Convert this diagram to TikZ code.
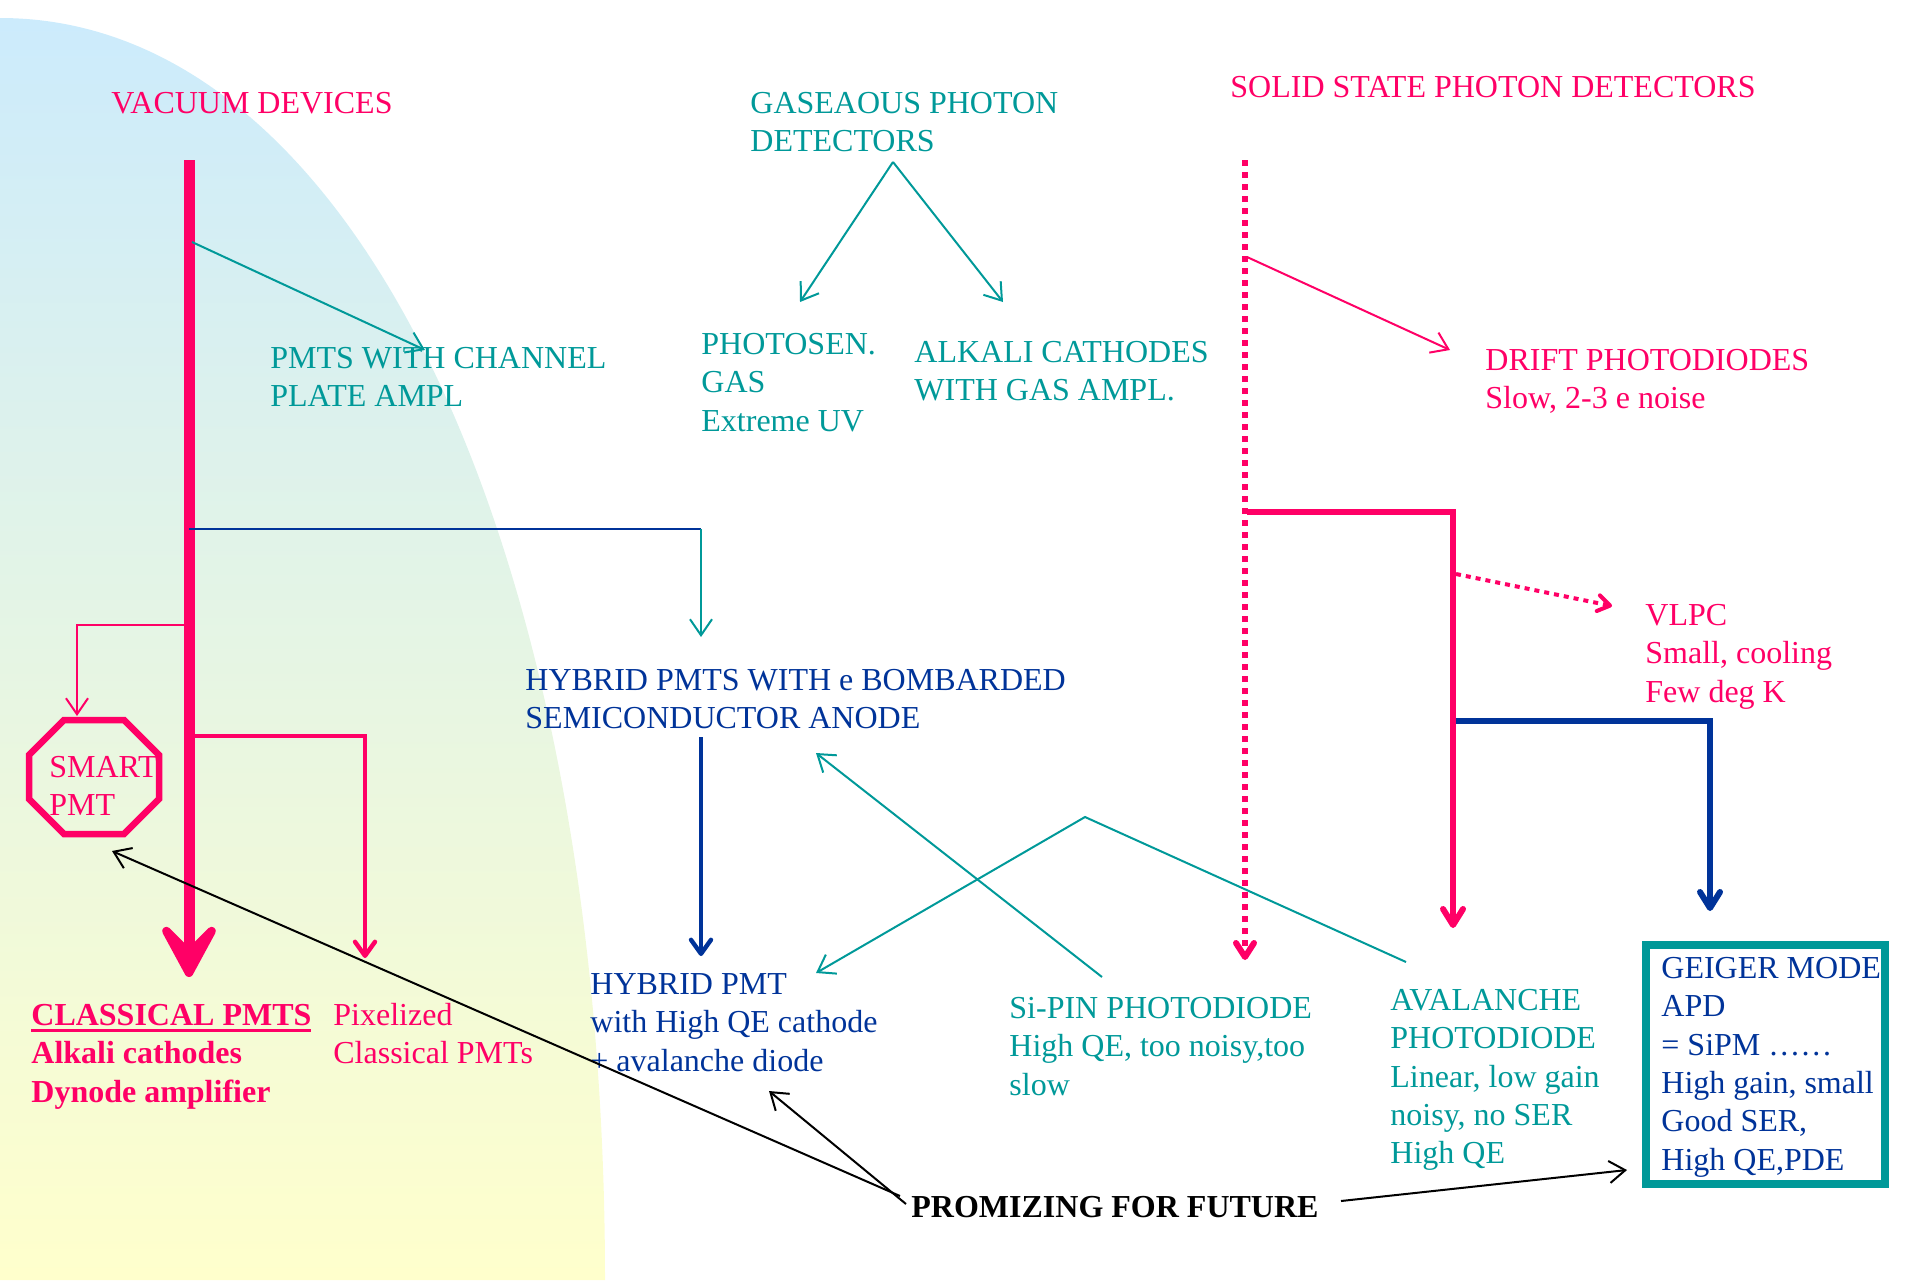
\documentclass[tikz,border=0pt]{standalone}
\usepackage{fontspec}
\setmainfont{Liberation Serif}
\usetikzlibrary{arrows.meta,calc}
\definecolor{cpink}{RGB}{255,0,102}
\definecolor{cteal}{RGB}{0,153,153}
\definecolor{cblue}{RGB}{0,51,153}
\definecolor{bgtop}{RGB}{204,235,252}
\definecolor{bgbot}{RGB}{255,255,204}
\newcommand\fsz{\fontsize{16pt}{19.2pt}\selectfont}
\newcommand\thickul[1]{\setbox0\hbox{#1}\rlap{\rule[-3.5pt]{\wd0}{1.5pt}}\box0}
\begin{document}
\begin{tikzpicture}[x=0.5pt,y=-0.5pt,
  lbl/.style={inner sep=0pt,anchor=north west,align=left,font=\fsz},
  thinarr/.style={line width=1pt,-{Straight Barb[length=8pt,width=11pt]}},
  medarr/.style={line width=2.2pt,-{Straight Barb[length=7pt,width=10pt,round]}},
  thickarr/.style={line width=3pt,-{Straight Barb[length=8pt,width=10pt,round]}},
  bigarr/.style={line width=5.5pt,-{Stealth[length=37pt,width=40pt,inset=20pt,round]}},
  dotarr/.style={line width=3pt,dash pattern=on 3pt off 3pt,-{Straight Barb[length=7pt,width=9pt,round]}},
  smalldot/.style={line width=2pt,dash pattern=on 2.5pt off 2.5pt,-{Straight Barb[length=6pt,width=8pt,round]}},
  octo/.style={draw=cpink,line width=3.25pt,line join=miter},
  gbox/.style={draw=cteal,line width=4pt,inner sep=0pt,outer sep=0pt,anchor=north west,minimum width=119.5pt,minimum height=119.5pt}
]
\useasboundingbox (0,0) rectangle (1915,1280);
\shade[top color=bgtop,bottom color=bgbot] (0,18) .. controls (360,18) and (605,560) .. (605,1280) -- (0,1280) -- cycle;

% ---------- texts ----------
\node[lbl,text=cpink] (vac) at (111,86) {\strut VACUUM DEVICES};
\node[lbl,text=cteal] (gas) at (750,86) {\strut GASEAOUS PHOTON\\DETECTORS};
\node[lbl,text=cpink] (solid) at (1230,70) {\strut SOLID STATE PHOTON DETECTORS};
\node[lbl,text=cteal] (mcp) at (270,341) {\strut PMTS WITH CHANNEL\\PLATE AMPL};
\node[lbl,text=cteal] (photosen) at (701,327) {\strut PHOTOSEN.\\GAS\\Extreme UV};
\node[lbl,text=cteal] (alkgas) at (914,335) {\strut ALKALI CATHODES\\WITH GAS AMPL.};
\node[lbl,text=cpink] (drift) at (1485,343) {\strut DRIFT PHOTODIODES\\Slow, 2-3 e noise};
\node[lbl,text=cblue] (hybrid) at (525,663) {\strut HYBRID PMTS WITH e BOMBARDED\\SEMICONDUCTOR ANODE};
\node[lbl,text=cpink] (vlpc) at (1645,598) {\strut VLPC\\Small, cooling\\Few deg K};
\node[lbl,text=cpink] (smart) at (49,750) {\strut SMART\\PMT};
\node[lbl,text=cpink,font=\fsz\bfseries] (classical) at (31,998) {\strut\thickul{CLASSICAL PMTS}\\Alkali cathodes\\Dynode amplifier};
\node[lbl,text=cpink] (pixel) at (333,998) {\strut Pixelized\\Classical PMTs};
\node[lbl,text=cblue] (hybpmt) at (590,967) {\strut HYBRID PMT\\with High QE cathode\\+ avalanche diode};
\node[lbl,text=cteal] (sipin) at (1009,991) {\strut Si-PIN PHOTODIODE\\High QE, too noisy,too\\slow};
\node[lbl,text=cteal] (aval) at (1390,983) {\strut AVALANCHE\\PHOTODIODE\\Linear, low gain\\noisy, no SER\\High QE};
\node[gbox] (geiger) at (1646,945) {};
\node[lbl,text=cblue] (geigertxt) at (1661,951) {\strut GEIGER MODE\\APD\\= SiPM ……\\High gain, small\\Good SER,\\High QE,PDE};
\node[lbl,font=\fsz\bfseries] (prom) at (911,1190) {\strut PROMIZING FOR FUTURE};

% ---------- octagon (SMART PMT) ----------
\coordinate (oc) at (94,777);
\draw[octo] ($(oc)+(-30,-57)$) -- ++(60,0) -- ++(35,35) -- ++(0,44) -- ++(-35,35) -- ++(-60,0) -- ++(-35,-35) -- ++(0,-44) -- cycle;

% ---------- coordinates ----------
\coordinate (vtop) at (189,160);
\coordinate (vend) at (189,977);
\coordinate (vb1) at (192,242);   \coordinate (mcpin) at (425,350);
\coordinate (vb2) at (189,529);   \coordinate (hk) at (701,529);   \coordinate (hybin) at (701,637);
\coordinate (vb3) at (189,625);   \coordinate (sk) at (77,625);    \coordinate (smartin) at (77,716);
\coordinate (vb4) at (189,736);   \coordinate (pk) at (365,736);   \coordinate (pixin) at (365,958);
\coordinate (hybout) at (701,737); \coordinate (hpin) at (701,956);
\coordinate (gapex) at (893,162); \coordinate (psin) at (800,302); \coordinate (agin) at (1003,302);
\coordinate (stop) at (1245,160); \coordinate (send) at (1245,960);
\coordinate (sb1) at (1247,257);  \coordinate (driftin) at (1450,350);
\coordinate (sb2) at (1247,512);  \coordinate (ak) at (1453,512);  \coordinate (avin) at (1453,928);
\coordinate (ab1) at (1456,574);  \coordinate (vlpcin) at (1612,606);
\coordinate (ab2) at (1456,721);  \coordinate (gk) at (1710,721);  \coordinate (gin) at (1710,911);
\coordinate (sipout) at (1102,977); \coordinate (hybin2) at (816,753);
\coordinate (avout) at (1406,962); \coordinate (tapex) at (1085,817); \coordinate (hpin2) at (816,973);
\coordinate (pr1) at (900,1196);  \coordinate (smartin2) at (112,851);
\coordinate (pr2) at (906,1204);  \coordinate (hpin3) at (769,1091);
\coordinate (pr3) at (1341,1201); \coordinate (gin2) at (1627,1170);

% ---------- connectors ----------
\draw[cpink,bigarr] (vtop) -- (vend);
\draw[cteal,thinarr] (vb1) -- (mcpin);
\draw[cblue,line width=1pt] (vb2) -- (hk);
\draw[cteal,thinarr] (hk) -- (hybin);
\draw[cpink,thinarr] (vb3) -- (sk) -- (smartin);
\draw[cpink,medarr] (vb4) -- (pk) -- (pixin);
\draw[cblue,medarr] (hybout) -- (hpin);
\draw[cteal,thinarr] (gapex) -- (psin);
\draw[cteal,thinarr] (gapex) -- (agin);
\draw[cpink,dotarr] (stop) -- (send);
\draw[cpink,thinarr] (sb1) -- (driftin);
\draw[cpink,thickarr] (sb2) -- (ak) -- (avin);
\draw[cpink,smalldot] (ab1) -- (vlpcin);
\draw[cblue,thickarr] (ab2) -- (gk) -- (gin);
\draw[cteal,thinarr] (sipout) -- (hybin2);
\draw[cteal,thinarr] (avout) -- (tapex) -- (hpin2);
\draw[black,thinarr] (pr1) -- (smartin2);
\draw[black,thinarr] (pr2) -- (hpin3);
\draw[black,thinarr] (pr3) -- (gin2);
\end{tikzpicture}
\end{document}
